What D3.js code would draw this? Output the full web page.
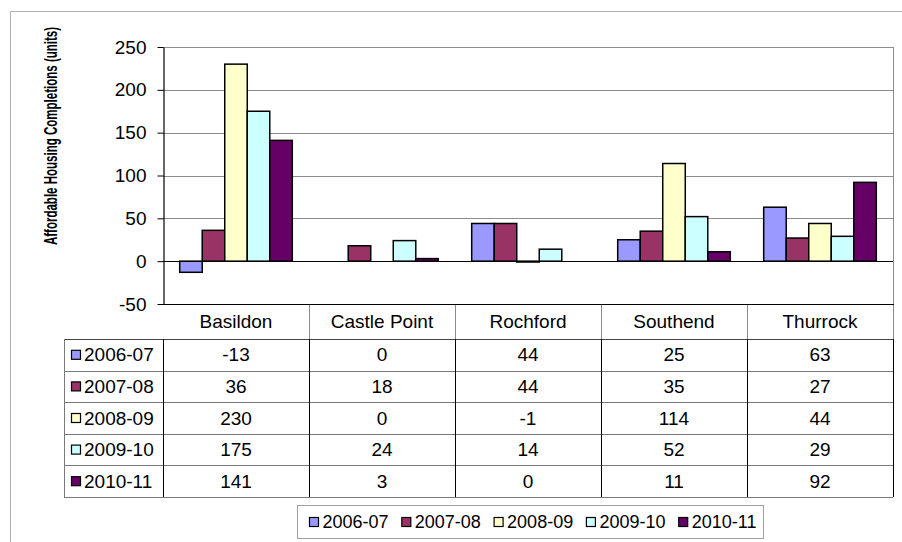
<!DOCTYPE html>
<html>
<head>
<meta charset="utf-8">
<script src="https://cdn.jsdelivr.net/npm/d3@7"></script>
<style>
  html, body { margin: 0; padding: 0; background: #fff; }
  svg { display: block; font-family: "Liberation Sans", Arial, sans-serif; }
</style>
</head>
<body>
<svg id="chart" width="902" height="542"></svg>
<script>
// Affordable housing completions by district and year
const categories = ["Basildon", "Castle Point", "Rochford", "Southend", "Thurrock"];
const seriesNames = ["2006-07", "2007-08", "2008-09", "2009-10", "2010-11"];
const values0607 = [-13, 0, 44, 25, 63];
const values0708 = [36, 18, 44, 35, 27];
const values0809 = [230, 0, -1, 114, 44];
const values0910 = [175, 24, 14, 52, 29];
const values1011 = [141, 3, 0, 11, 92];
const yTicks = [-50, 0, 50, 100, 150, 200, 250];
const seriesColors = ["#9999FF", "#993366", "#FFFFCC", "#CCFFFF", "#660066"];

const seriesValues = [values0607, values0708, values0809, values0910, values1011];

const svg = d3.select("#chart");
const plot = { left: 163, right: 893, top: 47, bottom: 304 };
const table = { left: 64, headerBottom: 339, bottom: 497 };
const fontSize = 19;

// Outer chart frame
svg.append("path")
  .attr("d", "M10.5,542 L10.5,11.5 L902,11.5")
  .attr("fill", "none").attr("stroke", "#b0b0b0").attr("stroke-width", 1);

const x = d3.scaleBand().domain(categories).range([plot.left, plot.right]);
const xInner = d3.scaleBand().domain(seriesNames).range([16.7, x.bandwidth() - 16.7]);
const y = d3.scaleLinear().domain([-50, 250]).range([plot.bottom, plot.top]);

// Gridlines
svg.append("g").selectAll("line")
  .data(yTicks.filter(t => t > 0))
  .join("line")
  .attr("x1", plot.left).attr("x2", plot.right)
  .attr("y1", d => Math.round(y(d)) + 0.5).attr("y2", d => Math.round(y(d)) + 0.5)
  .attr("stroke", "#8c8c8c").attr("stroke-width", 1);

// Right edge of plot area
svg.append("line")
  .attr("x1", plot.right + 0.5).attr("x2", plot.right + 0.5)
  .attr("y1", plot.top).attr("y2", plot.bottom)
  .attr("stroke", "#8c8c8c");

// Bars
const groups = svg.append("g").selectAll("g")
  .data(categories)
  .join("g")
  .attr("transform", d => `translate(${x(d)},0)`);

groups.selectAll("rect")
  .data((c, ci) => seriesNames.map((s, si) => ({ s, si, v: seriesValues[si][ci] })))
  .join("rect")
  .attr("x", d => xInner(d.s))
  .attr("width", xInner.bandwidth())
  .attr("y", d => y(Math.max(0, d.v)))
  .attr("height", d => Math.abs(y(d.v) - y(0)))
  .attr("fill", d => seriesColors[d.si])
  .attr("stroke", "#000")
  .attr("stroke-width", 1.5);

// Zero line
svg.append("line")
  .attr("x1", plot.left).attr("x2", plot.right)
  .attr("y1", Math.round(y(0)) + 0.5).attr("y2", Math.round(y(0)) + 0.5)
  .attr("stroke", "#000").attr("stroke-width", 1.2);

// Y axis
const yAxis = svg.append("g")
  .attr("transform", `translate(${plot.left + 0.5},0)`)
  .call(d3.axisLeft(y).tickValues(yTicks).tickFormat(d => String(d))
    .tickSize(6).tickPadding(11).tickSizeOuter(0));
yAxis.select(".domain").attr("stroke", "#000").attr("stroke-width", 1.2);
yAxis.selectAll(".tick line").attr("stroke", "#000");
yAxis.selectAll(".tick text")
  .attr("font-size", fontSize)
  .attr("font-family", "Liberation Sans, Arial, sans-serif")
  .attr("fill", "#000");

// Axis title (condensed along its length)
svg.append("text")
  .attr("transform", "translate(50,136) rotate(-90) scale(0.64,1)")
  .attr("text-anchor", "middle")
  .attr("dominant-baseline", "central")
  .attr("font-size", 18)
  .attr("font-weight", "bold")
  .text("Affordable Housing Completions (units)");

// Data table
const rowH = (table.bottom - table.headerBottom) / seriesNames.length;
const rowY = i => table.headerBottom + i * rowH;
const tbl = svg.append("g");

// Header row: category names
tbl.selectAll("text.cat")
  .data(categories)
  .join("text")
  .attr("class", "cat")
  .attr("x", d => x(d) + x.bandwidth() / 2)
  .attr("y", (plot.bottom + table.headerBottom) / 2)
  .attr("text-anchor", "middle")
  .attr("dominant-baseline", "central")
  .attr("font-size", fontSize)
  .text(d => d);

// Header separators
tbl.selectAll("line.hsep")
  .data(categories)
  .join("line")
  .attr("class", "hsep")
  .attr("x1", d => Math.round(x(d) + x.bandwidth()) + 0.5)
  .attr("x2", d => Math.round(x(d) + x.bandwidth()) + 0.5)
  .attr("y1", plot.bottom).attr("y2", table.headerBottom)
  .attr("stroke", "#8c8c8c");

// Horizontal row lines
tbl.selectAll("line.row")
  .data(d3.range(seriesNames.length + 1))
  .join("line")
  .attr("class", "row")
  .attr("x1", table.left).attr("x2", plot.right)
  .attr("y1", i => Math.round(rowY(i)) + 0.5).attr("y2", i => Math.round(rowY(i)) + 0.5)
  .attr("stroke", (i) => (i === 0 ? "#444" : "#7a7a7a"));

// Vertical body lines
const bodyEdges = [plot.left].concat(categories.map(c => x(c) + x.bandwidth()));
tbl.selectAll("line.col")
  .data(bodyEdges)
  .join("line")
  .attr("class", "col")
  .attr("x1", d => Math.round(d) + 0.5).attr("x2", d => Math.round(d) + 0.5)
  .attr("y1", table.headerBottom).attr("y2", table.bottom)
  .attr("stroke", "#000");

tbl.append("line")
  .attr("x1", table.left + 0.5).attr("x2", table.left + 0.5)
  .attr("y1", table.headerBottom).attr("y2", table.bottom)
  .attr("stroke", "#7a7a7a");

// Plot bottom line (top of table header)
svg.append("line")
  .attr("x1", plot.left).attr("x2", plot.right + 1)
  .attr("y1", plot.bottom + 0.5).attr("y2", plot.bottom + 0.5)
  .attr("stroke", "#000").attr("stroke-width", 1.2);

// Row labels with legend keys
const rows = tbl.selectAll("g.rowlabel")
  .data(seriesNames)
  .join("g")
  .attr("class", "rowlabel")
  .attr("transform", (d, i) => `translate(0,${rowY(i) + rowH / 2})`);
rows.append("rect")
  .attr("x", 71.5).attr("y", -4.5).attr("width", 9).attr("height", 9)
  .attr("fill", (d, i) => seriesColors[i]).attr("stroke", "#000").attr("stroke-width", 1.2);
rows.append("text")
  .attr("x", 84).attr("y", 0)
  .attr("dominant-baseline", "central")
  .attr("font-size", fontSize)
  .text(d => d);

// Cell values
seriesNames.forEach((s, si) => {
  tbl.append("g").selectAll("text")
    .data(seriesValues[si])
    .join("text")
    .attr("x", (d, ci) => x(categories[ci]) + x.bandwidth() / 2)
    .attr("y", rowY(si) + rowH / 2)
    .attr("text-anchor", "middle")
    .attr("dominant-baseline", "central")
    .attr("font-size", fontSize)
    .text(d => d);
});

// Legend
const legend = svg.append("g");
legend.append("rect")
  .attr("x", 297.5).attr("y", 505.5).attr("width", 466).attr("height", 33)
  .attr("fill", "#fff").attr("stroke", "#a0a0a0");
const legItems = legend.selectAll("g.item")
  .data(seriesNames)
  .join("g")
  .attr("class", "item")
  .attr("transform", (d, i) => `translate(${309.5 + i * 92.3},522)`);
legItems.append("rect")
  .attr("x", 0).attr("y", -4.5).attr("width", 9).attr("height", 9)
  .attr("fill", (d, i) => seriesColors[i]).attr("stroke", "#000").attr("stroke-width", 1.2);
legItems.append("text")
  .attr("x", 13).attr("y", 0)
  .attr("dominant-baseline", "central")
  .attr("font-size", 18)
  .text(d => d);
</script>
</body>
</html>
